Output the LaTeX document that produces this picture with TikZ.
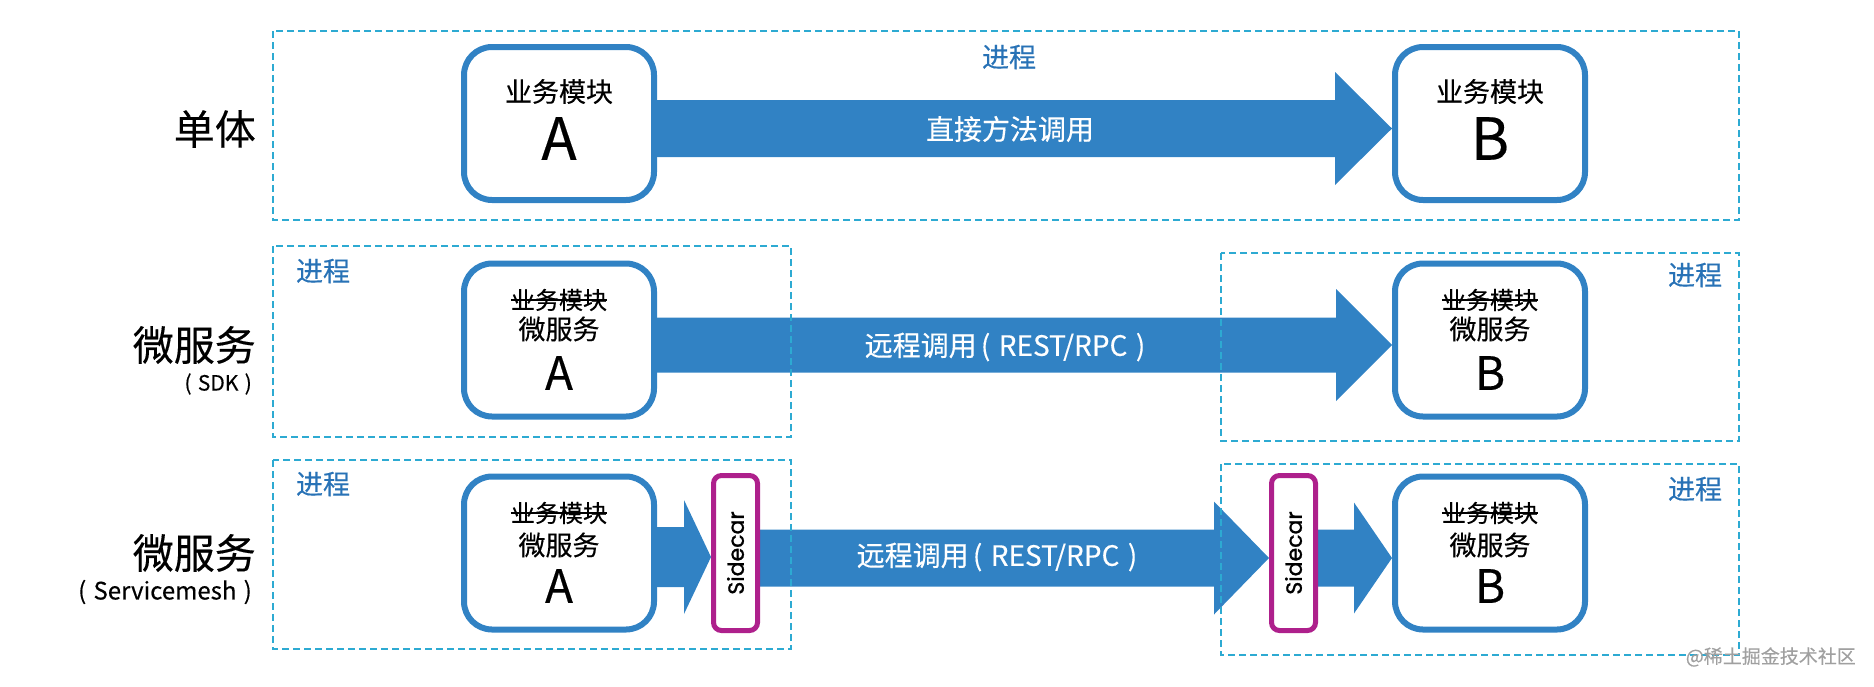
\documentclass[tikz,border=0pt]{standalone}
\usepackage{fontspec}
\setmainfont{Noto Sans CJK SC}[FakeBold=0.3]
\newfontfamily\sidefont{Poppins}[FakeBold=1.2]
\usetikzlibrary{calc}
\definecolor{mainblue}{RGB}{49,130,196}
\definecolor{dashblue}{RGB}{45,170,210}
\definecolor{procblue}{RGB}{40,114,182}
\definecolor{sidemag}{RGB}{174,32,140}
\definecolor{wmgray}{RGB}{160,160,160}
\pgfdeclarelayer{bg}
\pgfsetlayers{bg,main}
\newcommand{\fatarrow}[5]{%
  \fill[mainblue] let \p1=#1, \p2=#2 in
    (\x1,\y1+#3) -- (\x2-#5,\y1+#3) -- (\x2-#5,\y1+#4) -- (\x2,\y1)
    -- (\x2-#5,\y1-#4) -- (\x2-#5,\y1-#3) -- (\x1,\y1-#3) -- cycle;}
\newcommand{\fs}[1]{\fontsize{#1}{#1}\selectfont}
\newcommand{\prn}[1]{(\hspace{0.3em}#1\hspace{0.3em})}
\tikzset{
  procbox/.style={draw=dashblue, line width=2pt, dash pattern=on 7pt off 4pt},
  modbox/.style={draw=mainblue, fill=white, line width=6pt, rounded corners=28pt,
    minimum width=190pt, minimum height=153pt, inner sep=0pt},
  sidebox/.style={draw=sidemag, fill=white, line width=5pt, rounded corners=8pt,
    minimum width=44pt, minimum height=155pt, inner sep=0pt},
  proclbl/.style={text=procblue, font=\fs{27}, inner sep=0pt},
  rowlbl/.style={font=\fs{41}, inner sep=0pt, anchor=east},
  sublbl/.style={font=\fs{21}, inner sep=0pt, anchor=east},
  oldtxt/.style={font=\fs{24}, inner sep=0pt},
  newtxt/.style={font=\fs{27}, inner sep=0pt},
  bigletter/.style={font=\fs{58}, inner sep=0pt},
  letter/.style={font=\fs{46}, inner sep=0pt},
  arrowtxt/.style={text=white, font=\fs{28}, inner sep=0pt},
  strike/.style={line width=2pt, black}
}
\begin{document}
\begin{tikzpicture}[x=1pt,y=-1pt]
\useasboundingbox (0,0) rectangle (1874,686);

% process boxes
\draw[procbox] (273,31) rectangle (1739,220);
\draw[procbox] (273,246) rectangle (791,437);
\draw[procbox] (1221,253) rectangle (1739,441);
\draw[procbox] (273,460) rectangle (791,649);
\draw[procbox] (1221,464) rectangle (1739,655);

\node[proclbl] (p1) at (1009,57) {进程};
\node[proclbl] (p2l) at (323,271) {进程};
\node[proclbl] (p2r) at (1695,275) {进程};
\node[proclbl] (p3l) at (323,484) {进程};
\node[proclbl] (p3r) at (1695,489) {进程};

% row labels
\node[rowlbl] (r1) at (256,129) {单体};
\node[rowlbl] (r2) at (256,345) {微服务};
\node[sublbl] (r2s) at (252,384) {\prn{SDK}};
\node[rowlbl] (r3) at (256,553) {微服务};
\node[sublbl, font=\fs{24}] (r3s) at (252,592) {\prn{Servicemesh}};

% row 1
\node[modbox] (A1) at (559,123.5) {};
\node[modbox] (B1) at (1490,123.5) {};
\node[newtxt] (A1t) at ($(A1)+(0,-32)$) {业务模块};
\node[bigletter] (A1l) at ($(A1)+(0,15)$) {A};
\node[newtxt] (B1t) at ($(B1)+(0,-32)$) {业务模块};
\node[bigletter] (B1l) at ($(B1)+(0,15)$) {B};

% row 2
\node[modbox] (A2) at (559,340) {};
\node[modbox] (B2) at (1490,340) {};
\foreach \n in {A2,B2}{
  \node[oldtxt] (\n o) at ($(\n)+(0,-40)$) {业务模块};
  \draw[strike] (\n o.west) -- (\n o.east);
  \node[newtxt] (\n m) at ($(\n)+(0,-11)$) {微服务};
}
\node[letter] (A2l) at ($(A2)+(0,33)$) {A};
\node[letter] (B2l) at ($(B2)+(0,33)$) {B};

% row 3
\node[modbox] (A3) at (559,553) {};
\node[modbox] (B3) at (1490,553) {};
\foreach \n in {A3,B3}{
  \node[oldtxt] (\n o) at ($(\n)+(0,-40)$) {业务模块};
  \draw[strike] (\n o.west) -- (\n o.east);
  \node[newtxt] (\n m) at ($(\n)+(0,-8)$) {微服务};
}
\node[letter] (A3l) at ($(A3)+(0,33)$) {A};
\node[letter] (B3l) at ($(B3)+(0,33)$) {B};
\node[sidebox] (S1) at (735.5,553) {};
\node[sidebox] (S2) at (1293.5,553) {};
\node[rotate=90, font=\sidefont\fs{22}, inner sep=0pt] (S1t) at (S1) {Sidecar};
\node[rotate=90, font=\sidefont\fs{22}, inner sep=0pt] (S2t) at (S2) {Sidecar};

% arrows
\begin{pgfonlayer}{bg}
\fatarrow{([yshift=-5pt]A1.east)}{(B1.west)}{28.5pt}{56.5pt}{57pt}
\fatarrow{([yshift=-5pt]A2.east)}{(B2.west)}{27.5pt}{56pt}{56pt}
\fatarrow{([yshift=-4pt]A3.east)}{(S1.west)}{30pt}{57pt}{27pt}
\fatarrow{([yshift=-5pt]S1.east)}{(S2.west)}{28.5pt}{56.5pt}{55pt}
\fatarrow{([yshift=-5pt]S2.east)}{(B3.west)}{28.5pt}{55.5pt}{38pt}
\end{pgfonlayer}

\node[arrowtxt] (t1) at (1010,129) {直接方法调用};
\node[arrowtxt] (t2) at (1005,347) {远程调用\hspace{0.15em}\prn{REST/RPC}};
\node[arrowtxt] (t3) at (997,557) {远程调用\hspace{0.15em}\prn{REST/RPC}};

% watermark
\node[text=wmgray, font=\fs{19}, inner sep=0pt, anchor=east] (wm) at (1856,657) {@稀土掘金技术社区};
\end{tikzpicture}
\end{document}
